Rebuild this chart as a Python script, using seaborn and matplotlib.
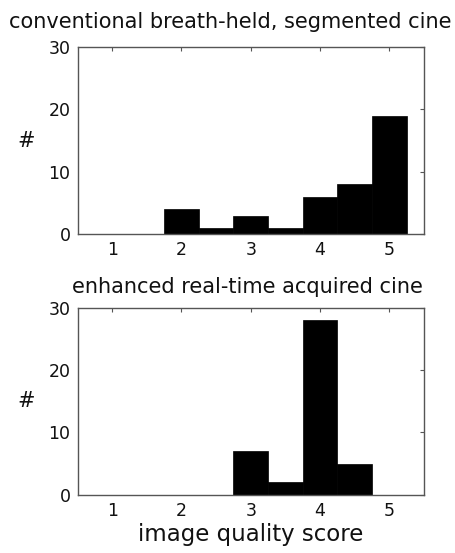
import numpy as np
import pandas as pd
import matplotlib
matplotlib.use("Agg")
import matplotlib.pyplot as plt
import seaborn as sns

# image quality scores (half-point steps) and number of cases per score
scores = [1.0, 1.5, 2.0, 2.5, 3.0, 3.5, 4.0, 4.5, 5.0]
counts_conventional = [0, 0, 4, 1, 3, 1, 6, 8, 19]
counts_realtime = [0, 0, 0, 0, 7, 2, 28, 5, 0]

titles = ["conventional breath-held, segmented cine",
          "enhanced real-time acquired cine"]
x_ticks = [1, 2, 3, 4, 5]
y_ticks = [0, 10, 20, 30]

sns.set_style("white")
plt.rcParams["font.family"] = ["DejaVu Sans"]

fig, axes = plt.subplots(2, 1, figsize=(4.56, 5.53), dpi=100)
fig.subplots_adjust(left=0.17, right=0.93, top=0.915, bottom=0.105, hspace=0.39)

# title placement per panel: (x in axes fraction, pad in points)
title_pos = [(0.44, 13.5), (0.49, 10.5)]

for ax, counts, title, (tx, tpad) in zip(
        axes, [counts_conventional, counts_realtime], titles, title_pos):
    df = pd.DataFrame({"score": scores, "n": counts})
    sns.histplot(data=df, x="score", weights="n", binwidth=0.5,
                 binrange=(0.75, 5.25), color="black", edgecolor="black",
                 alpha=1, linewidth=0.5, ax=ax)
    ax.set_xlim(0.5, 5.5)
    ax.set_ylim(0, 30)
    ax.set_xticks(x_ticks)
    ax.set_yticks(y_ticks)
    ax.tick_params(direction="in", length=3, width=0.8, color="#555555",
                   top=True, right=True, labelsize=12.5, pad=5,
                   labelcolor="#111111")
    for s in ax.spines.values():
        s.set_color("#555555")
        s.set_linewidth(1.0)
    ax.set_title(title, fontsize=15, pad=tpad, x=tx, color="#111111")
    ax.set_ylabel("#", fontsize=15, rotation=0, labelpad=16, va="center",
                  color="#111111")
    ax.set_xlabel("")

axes[1].set_xlabel("image quality score", fontsize=16.5, labelpad=2,
                   color="#111111")

fig.savefig("out.png", dpi=100)
